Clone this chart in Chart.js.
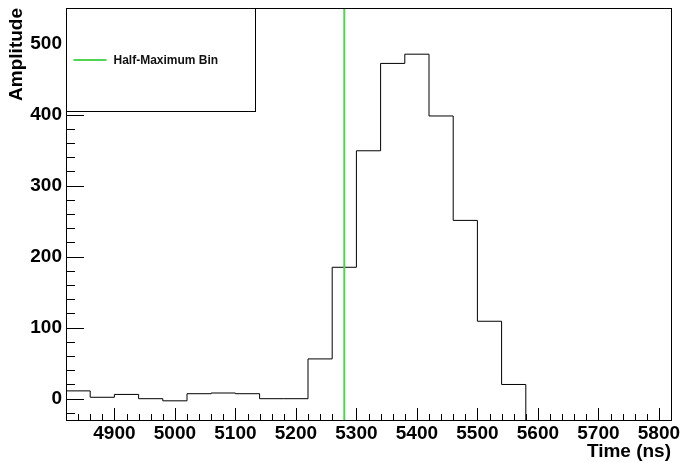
<!DOCTYPE html>
<html>
<head>
<meta charset="utf-8">
<script src="https://cdn.jsdelivr.net/npm/chart.js@4.4.1/dist/chart.umd.min.js"></script>
<style>
  html, body { margin: 0; padding: 0; background: #fff; }
  #wrap { width: 683px; height: 463px; position: relative; }
</style>
</head>
<body>
<div id="wrap"><canvas id="pulseChart"></canvas></div>
<script>
// histogram: 40 ns bins, value held from each low edge to the next
const binLowEdges = [4820, 4860, 4900, 4940, 4980, 5020, 5060, 5100, 5140, 5180,
  5220, 5260, 5300, 5340, 5380, 5420, 5460, 5500, 5540, 5580]
const amplitudes = [11, 2, 6, 0, -3, 7, 8, 7, 0, 0,
  56, 185, 349, 472, 485, 398, 251, 109, 20, -50]
const halfMaxBinTime = 5280

const xTickValues = [4900, 5000, 5100, 5200, 5300, 5400, 5500, 5600, 5700, 5800]
const yTickValues = [0, 100, 200, 300, 400, 500]
const xRange = [4820, 5820]
const yRange = [-30, 550]
const minorStep = 20

const boldFont = { family: '"Liberation Sans", Arial, sans-serif', size: 19, weight: "bold" }
const green = "#52d452"

// ROOT-like frame: inward ticks, box, half-max marker, legend pad
const rootFrame = {
  id: "rootFrame",
  afterDatasetsDraw(chart) {
    const { ctx, chartArea: a, scales } = chart
    const xs = scales.x
    const ys = scales.y
    ctx.save()
    ctx.strokeStyle = "#000"
    ctx.lineWidth = 1
    ctx.beginPath()
    for (let v = Math.ceil(yRange[0] / minorStep) * minorStep; v < yRange[1]; v += minorStep) {
      const py = Math.round(ys.getPixelForValue(v)) + 0.5
      const len = v % 100 === 0 ? 18 : 9
      ctx.moveTo(a.left, py)
      ctx.lineTo(a.left + len, py)
    }
    for (let v = xRange[0] + minorStep; v < xRange[1]; v += minorStep) {
      const px = Math.round(xs.getPixelForValue(v)) + 0.5
      const len = v % 100 === 0 ? 12 : 6
      ctx.moveTo(px, a.bottom)
      ctx.lineTo(px, a.bottom - len)
    }
    ctx.stroke()

    // half-maximum marker
    const gx = xs.getPixelForValue(halfMaxBinTime)
    ctx.strokeStyle = green
    ctx.lineWidth = 2
    ctx.beginPath()
    ctx.moveTo(gx, a.top)
    ctx.lineTo(gx, a.bottom)
    ctx.stroke()

    // legend pad
    const lw = Math.round((a.right - a.left) * 0.3125)
    const lh = Math.round((a.bottom - a.top) * 0.25)
    const lx = Math.round(a.left) + 0.5
    const ly = Math.round(a.top) + 0.5
    ctx.fillStyle = "#fff"
    ctx.fillRect(lx, ly, lw, lh)
    ctx.strokeStyle = "#000"
    ctx.lineWidth = 1
    ctx.strokeRect(lx, ly, lw, lh)
    const my = ly + lh / 2
    ctx.strokeStyle = green
    ctx.lineWidth = 2
    ctx.beginPath()
    ctx.moveTo(lx + 7, my)
    ctx.lineTo(lx + 40, my)
    ctx.stroke()
    ctx.fillStyle = "#111"
    ctx.font = 'bold 12px "Liberation Sans", Arial, sans-serif'
    ctx.textBaseline = "middle"
    ctx.fillText("Half-Maximum Bin", lx + 47, my + 1)

    // frame
    ctx.strokeStyle = "#000"
    ctx.lineWidth = 1
    ctx.strokeRect(Math.round(a.left) + 0.5, Math.round(a.top) + 0.5,
      Math.round(a.right - a.left), Math.round(a.bottom - a.top))
    ctx.restore()
  }
}

const points = binLowEdges.map((x, i) => ({ x, y: amplitudes[i] }))

new Chart(document.getElementById("pulseChart"), {
  type: "line",
  data: {
    datasets: [{
      label: "Pulse",
      data: points,
      stepped: "before",
      borderColor: "#000",
      borderWidth: 1,
      pointRadius: 0,
      fill: false,
      clip: 0
    }]
  },
  options: {
    responsive: true,
    maintainAspectRatio: false,
    animation: false,
    devicePixelRatio: 1,
    layout: { padding: { top: 8, right: 12, left: 0, bottom: 0 } },
    plugins: { legend: { display: false }, tooltip: { enabled: false } },
    scales: {
      x: {
        type: "linear",
        min: xRange[0],
        max: xRange[1],
        grid: { display: false, drawTicks: false },
        border: { display: false },
        afterBuildTicks: (s) => { s.ticks = xTickValues.map((v) => ({ value: v })) },
        ticks: { font: boldFont, color: "#000", padding: 2, maxRotation: 0, autoSkip: false, callback: (v) => String(v) },
        title: { display: true, text: "Time (ns)", align: "end", color: "#000", font: boldFont, padding: { top: 0, bottom: 0 } },
        afterFit: (s) => { s.height = 43; s.paddingLeft = 0; s.paddingRight = 0 }
      },
      y: {
        min: yRange[0],
        max: yRange[1],
        grid: { display: false, drawTicks: false },
        border: { display: false },
        afterBuildTicks: (s) => { s.ticks = yTickValues.map((v) => ({ value: v })) },
        ticks: { font: boldFont, color: "#000", padding: 4, callback: (v) => String(v) },
        title: { display: true, text: "Amplitude", align: "end", color: "#000", font: boldFont, padding: { top: 5, bottom: 0 } },
        afterFit: (s) => { s.width = 66; s.paddingTop = 0; s.paddingBottom = 0 }
      }
    }
  },
  plugins: [rootFrame]
})
</script>
</body>
</html>
